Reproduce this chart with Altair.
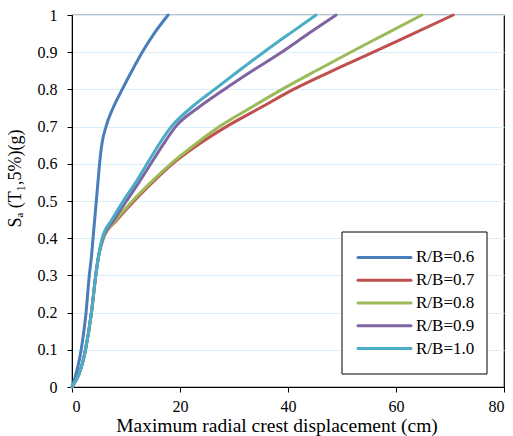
import altair as alt
import pandas as pd

# Spectral acceleration levels (g) at which each curve is sampled
sa_levels = [0.0, 0.1, 0.2, 0.3, 0.35, 0.4, 0.45, 0.5, 0.55, 0.6, 0.65, 0.7, 0.75, 0.8, 0.85, 0.9, 0.95, 1.0]

# Maximum radial crest displacement (cm) for each R/B ratio
disp_06 = [0.0, 1.7, 2.6, 3.2, 3.6, 3.9, 4.2, 4.5, 4.8, 5.1, 5.5, 6.3, 7.6, 9.3, 11.1, 13.0, 15.2, 17.8]
disp_07 = [0.0, 2.5, 3.6, 4.4, 4.9, 5.8, 8.4, 11.5, 14.9, 18.6, 23.2, 28.6, 34.8, 41.0, 48.2, 55.8, 63.2, 70.6]
disp_08 = [0.0, 2.5, 3.6, 4.4, 4.9, 5.8, 8.2, 11.2, 14.6, 18.3, 22.6, 27.3, 33.0, 38.9, 45.2, 51.6, 58.2, 64.8]
disp_09 = [0.0, 2.5, 3.6, 4.4, 4.9, 5.7, 7.8, 10.1, 12.4, 14.6, 16.8, 19.2, 23.3, 28.2, 33.4, 38.8, 43.8, 48.9]
disp_10 = [0.0, 2.5, 3.6, 4.4, 4.9, 5.6, 7.4, 9.5, 11.8, 13.9, 16.0, 18.4, 22.0, 26.4, 30.9, 35.5, 40.3, 45.2]

series_names = ["R/B=0.6", "R/B=0.7", "R/B=0.8", "R/B=0.9", "R/B=1.0"]
series_colors = ["#4a7ebb", "#c0504d", "#9bbb59", "#8064a2", "#4bacc6"]
series_values = [disp_06, disp_07, disp_08, disp_09, disp_10]

x_ticks = [0, 20, 40, 60, 80]
y_ticks = [round(v * 0.1, 1) for v in range(11)]

rows = []
for name, values in zip(series_names, series_values):
    for i, (d, sa) in enumerate(zip(values, sa_levels)):
        rows.append({"series": name, "disp": d, "sa": sa, "step": i})
df = pd.DataFrame(rows)
legend_df = pd.DataFrame({"series": series_names})

serif = "Liberation Serif, Times New Roman, serif"
color_scale = alt.Scale(domain=series_names, range=series_colors)

curves = (
    alt.Chart(df)
    .mark_line(strokeWidth=3, strokeCap="round", strokeJoin="round", interpolate="monotone")
    .encode(
        x=alt.X(
            "disp:Q",
            scale=alt.Scale(domain=[0, 80], nice=False),
            axis=alt.Axis(
                values=x_ticks,
                title="Maximum radial crest displacement (cm)",
                grid=False,
                tickSize=5,
                labelPadding=6,
                labelFont=serif,
                titleFont=serif,
                titleFontSize=19.5,
                titleX=204.5,
                titleY=44,
                titleAlign="center",
                titleBaseline="alphabetic",
            ),
        ),
        y=alt.Y(
            "sa:Q",
            scale=alt.Scale(domain=[0, 1], nice=False),
            axis=alt.Axis(
                values=y_ticks,
                format="~g",
                title="Sₐ (T₁,5%)(g)",
                tickSize=5,
                labelPadding=10,
                labelFont=serif,
                titleFont=serif,
                titleFontSize=18,
                titleX=-57,
                titleY=163,
                titleAngle=270,
                titleAlign="center",
                titleBaseline="middle",
            ),
        ),
        color=alt.Color("series:N", scale=color_scale, legend=None),
        order="step:Q",
    )
)

# Legend drawn as its own layer: framed box, colour swatches and labels
legend_y = alt.Y("series:N", scale=alt.Scale(domain=series_names, range=[231, 345]), axis=None)

legend_box = (
    alt.Chart(legend_df.head(1))
    .mark_rect(fill="#ffffff", stroke="#000000", strokeWidth=1)
    .encode(x=alt.value(270), x2=alt.value(415), y=alt.value(217), y2=alt.value(359))
)
legend_swatch = (
    alt.Chart(legend_df)
    .mark_rule(strokeWidth=3, strokeCap="round")
    .encode(
        y=legend_y,
        x=alt.value(286),
        x2=alt.value(339),
        color=alt.Color("series:N", scale=color_scale, legend=None),
    )
)
legend_text = (
    alt.Chart(legend_df)
    .mark_text(align="left", baseline="middle", font=serif, fontSize=17, color="#000000")
    .encode(y=legend_y, x=alt.value(344), text="series:N")
)

chart = (
    alt.layer(curves, legend_box, legend_swatch, legend_text)
    .resolve_scale(y="independent")
    .properties(width=432, height=372)
    .configure(
        autosize=alt.AutoSizeParams(type="none"),
        padding={"left": 72, "top": 15, "right": 9, "bottom": 49},
        font=serif,
    )
    .configure_view(stroke="#000000", strokeWidth=1.2)
    .configure_axis(
        domainColor="#000000",
        tickColor="#000000",
        labelColor="#000000",
        titleColor="#000000",
        labelFontSize=16,
        titleFontWeight="normal",
        gridColor="#d8eff9",
        gridWidth=1,
    )
)

chart.save("out.html", embed_options={"renderer": "svg", "actions": False})
